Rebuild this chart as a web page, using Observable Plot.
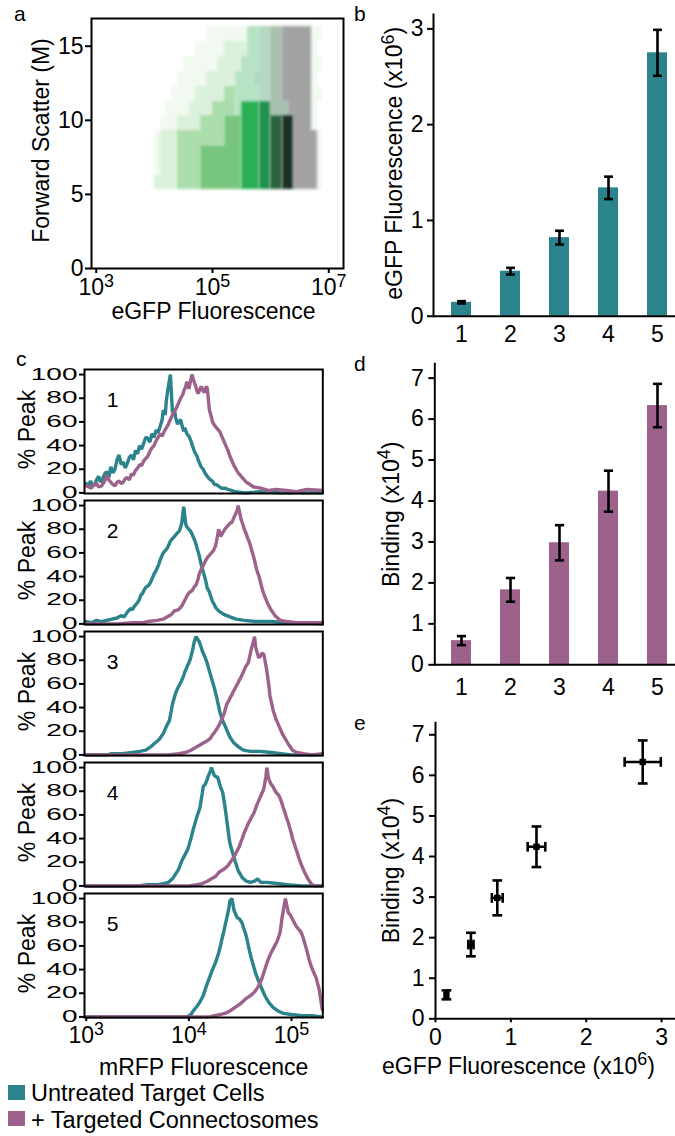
<!DOCTYPE html>
<html>
<head>
<meta charset="utf-8">
<script src="https://cdn.jsdelivr.net/npm/d3@7"></script>
<script src="https://cdn.jsdelivr.net/npm/@observablehq/plot@0.6"></script>
<style>
html,body{margin:0;padding:0;background:#fff;}
#fig{position:relative;width:675px;height:1136px;overflow:hidden;background:#fff;font-family:"Liberation Sans",Arial,Helvetica,sans-serif;color:#000;}
#fig svg{position:absolute;}
.plab{position:absolute;font-size:21px;line-height:1;}
.leg{position:absolute;font-size:23.5px;line-height:1;white-space:nowrap;}
.sw{position:absolute;width:17px;height:15px;}
</style>
</head>
<body>
<div id="fig"></div>
<script>
// ---------------- DATA ----------------
// Panel a: flow cytometry cloud, read as a density grid (log10 eGFP bins x forward-scatter bins)
const scatterLogEdges = [4.0,4.1,4.2,4.3,4.4,4.5,4.6,4.7,4.8,4.9,5.0,5.1,5.2,5.3,5.4,5.5,5.6,5.7,5.8,5.9,6.0,6.1,6.2,6.3,6.4,6.5,6.6,6.7,6.8,6.9,7.0];
const scatterFscEdges = [16.3,15.3,14.3,13.3,12.3,11.3,10.3,9.3,8.3,7.3,6.3,5.3];
const scatterGrid = [
  ".........1111111ggmmddkkkkk11.",
  ".......111112222ggmmddkkkkk1..",
  ".....1111112222gggmmddkkkkk11.",
  "....1111122222gggmmmddkkkkk1..",
  "...11112222233ggggmmddkkkkk11.",
  "..111122223333gGGGMMdddkkkk1..",
  ".11122223333444GGGMMDDKKkkk1..",
  "122233333333444GGGMMDDKKkkkk1.",
  "122233334444444GGGMMDDKKkkkk1.",
  "122233334444444GGGMMDDKKkkkk1.",
  "222233334444444GGGMMDDKKkkkk1."
];

// Panels b, d, e
const conditions = ["1","2","3","4","5"];
const egfpMean = [0.145, 0.47, 0.82, 1.34, 2.75];
const egfpErr  = [0.012, 0.035, 0.072, 0.117, 0.24];
const bindingMean = [0.59, 1.83, 2.98, 4.24, 6.33];
const bindingErr  = [0.11, 0.29, 0.43, 0.50, 0.53];

// Panel c: histograms, [log10 mRFP, % peak]
const histPanels = [1,2,3,4,5];
const untreated1 = [[3.00,8],[3.02,5],[3.04,10],[3.06,7],[3.08,6],[3.10,11],[3.12,14],[3.14,9],[3.16,12],[3.18,16],[3.20,18],[3.22,13],[3.24,22],[3.26,17],[3.28,20],[3.30,28],[3.32,32],[3.34,24],[3.36,26],[3.38,21],[3.40,25],[3.42,30],[3.44,32],[3.46,28],[3.48,36],[3.50,33],[3.52,40],[3.54,37],[3.56,42],[3.58,47],[3.60,46],[3.62,43],[3.64,50],[3.66,47],[3.68,53],[3.70,51],[3.72,56],[3.74,62],[3.75,70],[3.77,66],[3.78,78],[3.80,90],[3.82,100],[3.84,68],[3.86,70],[3.87,64],[3.89,58],[3.90,60],[3.92,62],[3.93,58],[3.95,52],[3.96,55],[3.98,50],[4.00,48],[4.02,44],[4.03,41],[4.05,36],[4.06,34],[4.08,31],[4.09,28],[4.11,24],[4.12,22],[4.14,20],[4.15,18],[4.17,15],[4.19,13],[4.21,11],[4.23,10],[4.25,7],[4.27,7],[4.30,5],[4.32,4],[4.35,4],[4.38,3],[4.42,2],[4.45,1],[4.55,0],[4.70,1],[4.90,0],[5.30,0]];
const targeted1 = [[3.00,6],[3.05,4],[3.07,7],[3.10,8],[3.12,5],[3.15,6],[3.18,10],[3.20,15],[3.22,11],[3.24,9],[3.26,7],[3.28,6],[3.30,9],[3.32,10],[3.34,8],[3.36,9],[3.38,12],[3.40,13],[3.42,11],[3.44,16],[3.46,15],[3.48,19],[3.50,21],[3.52,24],[3.54,23],[3.56,27],[3.58,29],[3.60,31],[3.62,35],[3.64,38],[3.66,40],[3.68,44],[3.70,47],[3.72,50],[3.74,48],[3.76,52],[3.78,55],[3.80,58],[3.82,62],[3.84,66],[3.86,69],[3.88,72],[3.90,76],[3.92,80],[3.94,83],[3.95,86],[3.97,90],[3.98,94],[4.00,88],[4.01,92],[4.03,100],[4.05,94],[4.06,92],[4.08,86],[4.09,84],[4.11,88],[4.12,90],[4.14,86],[4.15,85],[4.17,90],[4.18,88],[4.20,70],[4.22,64],[4.23,60],[4.25,57],[4.26,56],[4.28,54],[4.30,52],[4.32,48],[4.34,44],[4.36,40],[4.38,36],[4.40,31],[4.42,27],[4.44,23],[4.46,20],[4.48,17],[4.50,15],[4.52,13],[4.54,11],[4.56,9],[4.58,8],[4.63,5],[4.70,4],[4.78,2],[4.85,3],[4.95,2],[5.05,1],[5.15,3],[5.30,2]];
const untreated2 = [[3.00,2],[3.05,1],[3.10,3],[3.15,2],[3.20,3],[3.25,4],[3.30,5],[3.34,7],[3.37,6],[3.40,10],[3.43,13],[3.45,12],[3.47,15],[3.50,18],[3.52,21],[3.53,24],[3.55,26],[3.56,28],[3.58,31],[3.60,32],[3.62,34],[3.63,36],[3.65,40],[3.66,42],[3.68,45],[3.69,47],[3.71,51],[3.72,54],[3.74,58],[3.75,60],[3.77,62],[3.79,64],[3.81,68],[3.82,70],[3.84,72],[3.85,73],[3.87,75],[3.88,76],[3.90,78],[3.91,79],[3.93,85],[3.95,99],[3.97,84],[3.98,82],[4.00,80],[4.02,78],[4.03,76],[4.05,72],[4.06,70],[4.08,64],[4.10,58],[4.11,54],[4.13,47],[4.15,41],[4.16,38],[4.18,30],[4.20,27],[4.21,24],[4.23,19],[4.25,16],[4.26,14],[4.29,11],[4.34,8],[4.40,6],[4.46,4],[4.54,3],[4.65,2],[4.80,2],[4.95,1],[5.10,1],[5.30,0]];
const targeted2 = [[3.00,0],[3.30,0],[3.45,1],[3.55,1],[3.60,2],[3.69,3],[3.75,4],[3.79,6],[3.83,8],[3.86,11],[3.90,12],[3.93,15],[3.96,20],[3.99,25],[4.01,27],[4.03,28],[4.05,31],[4.07,33],[4.09,38],[4.10,42],[4.12,46],[4.13,48],[4.15,51],[4.16,53],[4.18,56],[4.20,58],[4.22,60],[4.24,62],[4.26,66],[4.27,70],[4.29,80],[4.31,74],[4.33,77],[4.35,80],[4.37,82],[4.39,84],[4.40,85],[4.42,86],[4.44,90],[4.45,92],[4.47,96],[4.48,100],[4.50,92],[4.51,88],[4.53,83],[4.54,80],[4.56,76],[4.57,73],[4.59,69],[4.60,66],[4.62,60],[4.63,57],[4.65,50],[4.66,46],[4.68,41],[4.69,38],[4.71,31],[4.72,28],[4.74,23],[4.76,19],[4.78,15],[4.80,12],[4.84,7],[4.89,3],[4.95,2],[5.05,1],[5.15,1],[5.30,1]];
const untreated3 = [[3.00,0],[3.20,0],[3.25,1],[3.35,1],[3.45,2],[3.52,3],[3.58,4],[3.63,7],[3.67,10],[3.71,13],[3.75,18],[3.78,24],[3.81,29],[3.83,38],[3.84,43],[3.86,49],[3.87,52],[3.89,56],[3.90,58],[3.92,61],[3.93,63],[3.95,67],[3.96,70],[3.98,74],[3.99,76],[4.01,80],[4.02,83],[4.04,90],[4.05,95],[4.07,100],[4.09,97],[4.10,96],[4.12,91],[4.13,88],[4.15,84],[4.16,82],[4.18,77],[4.19,74],[4.21,68],[4.22,65],[4.24,59],[4.25,56],[4.27,49],[4.28,45],[4.30,37],[4.31,34],[4.33,29],[4.34,27],[4.36,23],[4.37,21],[4.40,15],[4.44,10],[4.48,7],[4.53,4],[4.60,3],[4.70,3],[4.80,2],[4.90,1],[5.00,0],[5.30,0]];
const targeted3 = [[3.00,0],[3.80,0],[3.90,1],[3.97,2],[4.02,4],[4.06,6],[4.10,8],[4.14,10],[4.18,12],[4.21,14],[4.23,17],[4.25,19],[4.28,23],[4.30,26],[4.31,28],[4.33,32],[4.34,34],[4.36,40],[4.37,43],[4.39,46],[4.40,48],[4.42,51],[4.43,53],[4.45,56],[4.46,58],[4.48,61],[4.49,63],[4.51,66],[4.52,68],[4.54,72],[4.55,74],[4.57,77],[4.58,78],[4.60,86],[4.61,90],[4.63,96],[4.64,100],[4.65,92],[4.66,88],[4.68,82],[4.70,84],[4.71,86],[4.73,85],[4.75,76],[4.76,71],[4.78,58],[4.79,50],[4.81,42],[4.82,38],[4.85,30],[4.87,26],[4.89,22],[4.91,18],[4.93,15],[4.97,9],[5.01,4],[5.05,2],[5.12,1],[5.20,0],[5.30,1]];
const untreated4 = [[3.00,0],[3.50,0],[3.60,1],[3.70,1],[3.76,2],[3.80,3],[3.84,6],[3.87,10],[3.90,14],[3.93,21],[3.96,26],[3.99,31],[4.01,37],[4.02,40],[4.04,47],[4.05,50],[4.07,56],[4.08,59],[4.10,64],[4.11,67],[4.13,78],[4.14,84],[4.16,86],[4.17,88],[4.19,93],[4.21,97],[4.22,100],[4.24,95],[4.25,93],[4.27,92],[4.28,92],[4.30,86],[4.31,83],[4.33,79],[4.35,68],[4.37,55],[4.39,42],[4.40,36],[4.42,30],[4.45,21],[4.48,13],[4.52,7],[4.56,4],[4.60,3],[4.64,4],[4.67,6],[4.70,3],[4.76,3],[4.86,2],[4.96,1],[5.10,0],[5.30,0]];
const targeted4 = [[3.00,0],[4.00,0],[4.08,1],[4.13,2],[4.18,4],[4.22,6],[4.26,8],[4.30,12],[4.34,14],[4.38,17],[4.42,22],[4.44,25],[4.46,28],[4.49,33],[4.51,38],[4.52,40],[4.54,45],[4.55,47],[4.57,51],[4.58,53],[4.60,56],[4.61,58],[4.63,61],[4.64,63],[4.66,68],[4.67,70],[4.69,74],[4.70,76],[4.72,80],[4.73,82],[4.75,92],[4.76,100],[4.77,94],[4.78,90],[4.80,86],[4.82,84],[4.83,82],[4.85,79],[4.86,78],[4.88,76],[4.89,74],[4.91,69],[4.92,66],[4.94,61],[4.95,58],[4.97,53],[4.98,50],[5.00,44],[5.01,40],[5.03,35],[5.04,32],[5.06,27],[5.07,24],[5.10,17],[5.13,11],[5.16,6],[5.19,2],[5.22,0],[5.30,0]];
const untreated5 = [[3.00,0],[3.98,0],[4.02,2],[4.05,6],[4.08,9],[4.11,13],[4.14,18],[4.17,26],[4.20,33],[4.23,40],[4.26,46],[4.29,54],[4.31,61],[4.32,65],[4.34,72],[4.35,76],[4.37,84],[4.39,92],[4.40,98],[4.42,100],[4.44,90],[4.45,88],[4.47,84],[4.49,83],[4.50,82],[4.52,79],[4.53,76],[4.55,71],[4.56,68],[4.58,60],[4.59,56],[4.61,49],[4.62,46],[4.64,40],[4.65,37],[4.68,30],[4.71,24],[4.74,18],[4.78,12],[4.82,8],[4.87,5],[4.92,3],[5.00,2],[5.10,1],[5.20,1],[5.30,0]];
const targeted5 = [[3.00,0],[4.20,0],[4.25,1],[4.30,2],[4.35,3],[4.40,5],[4.45,8],[4.50,11],[4.55,15],[4.60,18],[4.64,21],[4.68,26],[4.71,32],[4.74,40],[4.77,48],[4.80,54],[4.83,59],[4.86,64],[4.88,69],[4.89,72],[4.91,85],[4.93,95],[4.94,100],[4.96,92],[4.97,88],[4.99,86],[5.00,84],[5.02,81],[5.03,79],[5.05,76],[5.06,75],[5.08,73],[5.09,72],[5.11,68],[5.12,65],[5.14,59],[5.15,56],[5.17,49],[5.18,46],[5.20,41],[5.21,39],[5.24,33],[5.27,23],[5.30,6]];

const legendLabels = ["Untreated Target Cells", "+ Targeted Connectosomes"];

// ---------------- STYLE ----------------
const TEAL = "#2b838c", PURPLE = "#9c628b";
const FONT = '"Liberation Sans", Arial, Helvetica, sans-serif';
const shade = {
  "1": ["#4cb84a", 0.08], "2": ["#4cb84a", 0.2], "3": ["#46b347", 0.45], "4": ["#3fae46", 0.7],
  g: ["#1fa84a", 0.32], G: ["#1fab4b", 0.95], m: ["#148a43", 0.32], M: ["#148a43", 0.95],
  d: ["#1d5c31", 0.38], D: ["#1d5c31", 0.95], k: ["#000000", 0.36], K: ["#10261a", 0.95]
};
const baseStyle = {fontFamily: FONT, fontSize: "23px", color: "#000", background: "transparent", overflow: "visible"};
const fig = document.getElementById("fig");
const NS = "http://www.w3.org/2000/svg";
const fmt = d => String(d);

function supify(svg) {
  svg.querySelectorAll("text").forEach(t => {
    const s = t.textContent;
    if (!s.includes("^")) return;
    const m = s.match(/^(.*?)\^(\d+)(.*)$/);
    if (!m) return;
    t.textContent = "";
    const a = document.createElementNS(NS, "tspan"); a.textContent = m[1];
    const b = document.createElementNS(NS, "tspan"); b.textContent = m[2];
    b.setAttribute("dy", "-0.45em"); b.setAttribute("font-size", "0.78em");
    t.append(a, b);
    if (m[3]) { const c = document.createElementNS(NS, "tspan"); c.textContent = m[3]; c.setAttribute("dy", "0.35em"); t.append(c); }
  });
}
function place(svg, left, top) {
  svg.style.left = left + "px"; svg.style.top = top + "px";
  fig.appendChild(svg);
  supify(svg);
  return svg;
}
const capH = {draw(ctx, size) { const w = Math.sqrt(size) / 2; ctx.moveTo(-w, 0); ctx.lineTo(w, 0); }};
const capV = {draw(ctx, size) { const w = Math.sqrt(size) / 2; ctx.moveTo(0, -w); ctx.lineTo(0, w); }};

// ---------------- PANEL A ----------------
const cells = [];
scatterGrid.forEach((row, r) => {
  [...row].forEach((ch, c) => {
    if (ch === ".") return;
    cells.push({ch, l1: scatterLogEdges[c], l2: scatterLogEdges[c + 1], y1: scatterFscEdges[r + 1], y2: scatterFscEdges[r]});
  });
});
const aMarks = Object.keys(shade).map(k => Plot.rect(cells.filter(d => d.ch === k), {
  x1: d => 10 ** d.l1, x2: d => 10 ** d.l2, y1: "y1", y2: "y2",
  fill: shade[k][0], fillOpacity: shade[k][1], shapeRendering: "crispEdges"
}));
const aSvg = place(Plot.plot({
  width: 350, height: 330, marginLeft: 91, marginRight: 7, marginTop: 18, marginBottom: 62,
  style: baseStyle,
  x: {type: "log", domain: [10 ** 2.919, 10 ** 7.253]},
  y: {domain: [0, 16.87]},
  marks: [
    ...aMarks,
    Plot.frame({stroke: "#000", strokeWidth: 2}),
    Plot.axisX({ticks: [1e3, 1e5, 1e7], tickFormat: d => "10^" + Math.round(Math.log10(d)), tickSize: 5, tickPadding: 5, strokeWidth: 2, label: null}),
    Plot.axisY({ticks: [0, 5, 10, 15], tickFormat: fmt, tickSize: 6, tickPadding: 2, strokeWidth: 2, label: null}),
    Plot.text(["Forward Scatter (M)"], {frameAnchor: "left", rotate: -90, textAnchor: "middle", lineAnchor: "top", dx: -59, dy: -3, fontSize: 23}),
    Plot.text(["eGFP Fluorescence"], {frameAnchor: "bottom", textAnchor: "middle", lineAnchor: "top", dx: -4, dy: 34, fontSize: 23})
  ]
}), 0, 0);
// soften the density blocks into a cloud
aSvg.querySelectorAll('g[aria-label="rect"]').forEach(g => g.setAttribute("style", "filter: blur(1.6px)"));

// ---------------- PANEL B ----------------
const egfpRows = conditions.map((c, i) => ({c, v: egfpMean[i], lo: egfpMean[i] - egfpErr[i], hi: egfpMean[i] + egfpErr[i]}));
place(Plot.plot({
  width: 335, height: 345, marginLeft: 93, marginRight: 0, marginTop: 14, marginBottom: 29.3,
  style: baseStyle,
  x: {type: "band", domain: conditions, range: [93, 343.8], paddingInner: 0.6, paddingOuter: 0.323},
  y: {domain: [0, 3.15]},
  marks: [
    Plot.barY(egfpRows, {x: "c", y: "v", fill: TEAL}),
    Plot.ruleX(egfpRows, {x: "c", y1: "lo", y2: "hi", stroke: "#000", strokeWidth: 2.6}),
    Plot.dot(egfpRows, {x: "c", y: "hi", symbol: capH, r: 5, fill: "none", stroke: "#000", strokeWidth: 2.6}),
    Plot.dot(egfpRows, {x: "c", y: "lo", symbol: capH, r: 5, fill: "none", stroke: "#000", strokeWidth: 2.6}),
    Plot.ruleY([0], {strokeWidth: 2}),
    Plot.frame({anchor: "left", strokeWidth: 2}),
    Plot.axisY({ticks: [0, 1, 2, 3], tickFormat: fmt, tickSize: 6, tickPadding: 4, strokeWidth: 2, label: null}),
    Plot.axisX({tickSize: 0, tickPadding: 9, label: null}),
    Plot.text(["eGFP Fluorescence (x10^6)"], {frameAnchor: "left", rotate: -90, textAnchor: "middle", lineAnchor: "top", dx: -48, dy: -2, fontSize: 23})
  ]
}), 340, 0);

// ---------------- PANEL C ----------------
const untreatedAll = [untreated1, untreated2, untreated3, untreated4, untreated5];
const targetedAll = [targeted1, targeted2, targeted3, targeted4, targeted5];
const tealRows = histPanels.flatMap((p, i) => untreatedAll[i].map(([L, v]) => ({panel: p, L, v})));
const purpleRows = histPanels.flatMap((p, i) => targetedAll[i].map(([L, v]) => ({panel: p, L, v})));
const cSvg = place(Plot.plot({
  width: 340, height: 730, marginLeft: 84, marginRight: 17.7, marginTop: 23.3, marginBottom: 57.5,
  style: baseStyle,
  x: {type: "log", domain: [10 ** 2.983, 10 ** 5.305]},
  y: {domain: [-0.5, 104.3]},
  fy: {domain: histPanels, paddingInner: 0.0556, paddingOuter: 0, axis: null, label: null},
  marks: [
    Plot.line(tealRows, {x: d => 10 ** d.L, y: "v", fy: "panel", stroke: TEAL, strokeWidth: 3.4, strokeLinejoin: "miter"}),
    Plot.line(purpleRows, {x: d => 10 ** d.L, y: "v", fy: "panel", stroke: PURPLE, strokeWidth: 3.4, strokeLinejoin: "miter"}),
    Plot.frame({stroke: "#000", strokeWidth: 2}),
    Plot.axisY({ticks: [0, 20, 40, 60, 80, 100], tickFormat: fmt, tickSize: 5, tickPadding: 2, strokeWidth: 2, fontSize: 28, label: null}),
    Plot.axisX({ticks: [1e3, 1e4, 1e5], tickFormat: d => "10^" + Math.round(Math.log10(d)), tickSize: 4, tickPadding: 5, strokeWidth: 2, label: null}),
    Plot.text(histPanels, {fy: d => d, text: d => String(d), frameAnchor: "top-left", textAnchor: "middle", lineAnchor: "top", dx: 28, dy: 23, fontSize: 21}),
    Plot.text(histPanels, {fy: d => d, text: () => "% Peak", frameAnchor: "left", rotate: -90, textAnchor: "middle", lineAnchor: "top", dx: -66, dy: -2, fontSize: 23}),
    Plot.text([5], {fy: d => d, text: () => "mRFP Fluorescence", frameAnchor: "bottom", textAnchor: "middle", lineAnchor: "top", dy: 41, fontSize: 23})
  ]
}), 0, 345);
cSvg.querySelectorAll('g[aria-label="y-axis tick label"] text').forEach(t => {
  const tr = t.getAttribute("transform");
  if (tr) t.setAttribute("transform", tr + " scale(1,0.56)");
});

// ---------------- PANEL D ----------------
const bindRows = conditions.map((c, i) => ({c, v: bindingMean[i], lo: bindingMean[i] - bindingErr[i], hi: bindingMean[i] + bindingErr[i]}));
place(Plot.plot({
  width: 335, height: 370, marginLeft: 94.3, marginRight: 0, marginTop: 18.3, marginBottom: 50.7,
  style: baseStyle,
  x: {type: "band", domain: conditions, range: [93, 343.8], paddingInner: 0.6, paddingOuter: 0.323},
  y: {domain: [0, 7.35]},
  marks: [
    Plot.barY(bindRows, {x: "c", y: "v", fill: PURPLE}),
    Plot.ruleX(bindRows, {x: "c", y1: "lo", y2: "hi", stroke: "#000", strokeWidth: 2.6}),
    Plot.dot(bindRows, {x: "c", y: "hi", symbol: capH, r: 5.2, fill: "none", stroke: "#000", strokeWidth: 2.6}),
    Plot.dot(bindRows, {x: "c", y: "lo", symbol: capH, r: 5.2, fill: "none", stroke: "#000", strokeWidth: 2.6}),
    Plot.ruleY([0], {strokeWidth: 2}),
    Plot.frame({anchor: "left", strokeWidth: 2}),
    Plot.axisY({ticks: [0, 1, 2, 3, 4, 5, 6, 7], tickFormat: fmt, tickSize: 6, tickPadding: 5, strokeWidth: 2, label: null}),
    Plot.axisX({tickSize: 0, tickPadding: 14, label: null}),
    Plot.text(["Binding (x10^4)"], {frameAnchor: "left", rotate: -90, textAnchor: "middle", lineAnchor: "top", dx: -52.6, dy: 0, fontSize: 23})
  ]
}), 340, 345);

// ---------------- PANEL E ----------------
const eRows = conditions.map((c, i) => ({
  x: egfpMean[i], xlo: egfpMean[i] - egfpErr[i], xhi: egfpMean[i] + egfpErr[i],
  y: bindingMean[i], ylo: bindingMean[i] - bindingErr[i], yhi: bindingMean[i] + bindingErr[i]
}));
place(Plot.plot({
  width: 335, height: 421, marginLeft: 95, marginRight: 0, marginTop: 6.7, marginBottom: 117.7,
  style: baseStyle,
  x: {domain: [0, 3.185]},
  y: {domain: [0, 7.31]},
  marks: [
    Plot.ruleX(eRows, {x: "x", y1: "ylo", y2: "yhi", stroke: "#000", strokeWidth: 2.6}),
    Plot.ruleY(eRows, {y: "y", x1: "xlo", x2: "xhi", stroke: "#000", strokeWidth: 2.6}),
    Plot.dot(eRows, {x: "x", y: "yhi", symbol: capH, r: 5.5, fill: "none", stroke: "#000", strokeWidth: 2.6}),
    Plot.dot(eRows, {x: "x", y: "ylo", symbol: capH, r: 5.5, fill: "none", stroke: "#000", strokeWidth: 2.6}),
    Plot.dot(eRows, {x: "xhi", y: "y", symbol: capV, r: 5.5, fill: "none", stroke: "#000", strokeWidth: 2.6}),
    Plot.dot(eRows, {x: "xlo", y: "y", symbol: capV, r: 5.5, fill: "none", stroke: "#000", strokeWidth: 2.6}),
    Plot.dot(eRows, {x: "x", y: "y", symbol: "square", r: 3.6, fill: "#000"}),
    Plot.ruleY([0], {strokeWidth: 2}),
    Plot.ruleX([0], {strokeWidth: 2}),
    Plot.axisY({ticks: [0, 1, 2, 3, 4, 5, 6, 7], tickFormat: fmt, tickSize: 6, tickPadding: 5, strokeWidth: 2, label: null}),
    Plot.axisX({ticks: [0, 1, 2, 3], tickFormat: fmt, tickSize: 4, tickPadding: 6, strokeWidth: 2, label: null}),
    Plot.text(["Binding (x10^4)"], {frameAnchor: "left", rotate: -90, textAnchor: "middle", lineAnchor: "top", dx: -53.3, dy: 0, fontSize: 23}),
    Plot.text(["eGFP Fluorescence (x10^6)"], {frameAnchor: "bottom", textAnchor: "middle", lineAnchor: "top", dx: -37, dy: 38.4, fontSize: 23})
  ]
}), 340, 715);

// ---------------- PANEL LETTERS & LEGEND ----------------
[["a", 14, 3], ["b", 354, 3], ["c", 16, 348], ["d", 354, 353], ["e", 354, 712]].forEach(([t, x, y]) => {
  const el = document.createElement("div");
  el.className = "plab"; el.textContent = t; el.style.left = x + "px"; el.style.top = y + "px";
  fig.appendChild(el);
});
[[TEAL, 1085, 1082], [PURPLE, 1111, 1108.7]].forEach(([col, sy, ty], i) => {
  const sw = document.createElement("div");
  sw.className = "sw"; sw.style.background = col; sw.style.left = "8px"; sw.style.top = sy + "px";
  fig.appendChild(sw);
  const tx = document.createElement("div");
  tx.className = "leg"; tx.textContent = legendLabels[i]; tx.style.left = "31px"; tx.style.top = ty + "px";
  fig.appendChild(tx);
});
</script>
</body>
</html>
